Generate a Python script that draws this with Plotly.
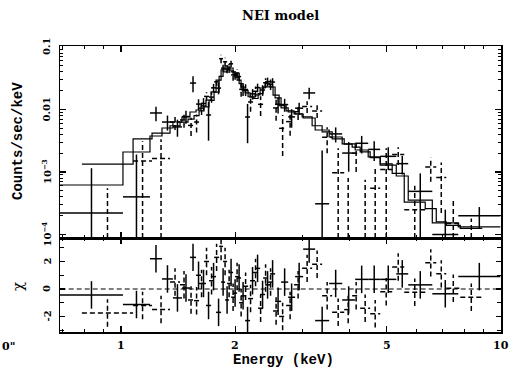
import math
import plotly.graph_objects as go

# ---------------- data set A (solid crosses) ----------------
a_edges = [0.691, 1.012, 1.192, 1.282, 1.370, 1.447, 1.519, 1.576, 1.624, 1.674, 1.726,
           1.779, 1.834, 1.879, 1.925, 1.972, 2.021, 2.070, 2.121, 2.186, 2.253, 2.323,
           2.394, 2.468, 2.544, 2.638, 2.754, 2.872, 3.016, 3.243, 3.530, 3.820, 4.133,
           4.472, 4.810, 5.302, 5.700, 6.595, 7.719, 9.96]
a_rate = [2.2e-4, 4.0e-4, 8.8e-3, 6.3e-3, 5.27e-3, 7.72e-3, 2.65e-2, 1.22e-2, 1.25e-2,
          8.17e-3, 2.22e-2, 2.20e-2, 4.59e-2, 4.45e-2, 5.39e-2, 3.54e-2, 3.36e-2, 2.08e-2,
          7.59e-3, 1.78e-2, 2.24e-2, 2.05e-2, 2.79e-2, 2.75e-2, 1.21e-2, 1.20e-2, 7.62e-3,
          1.05e-2, 1.84e-2, 3.1e-4, 4.07e-3, 2.01e-3, 2.88e-3, 2.30e-3, 1.78e-3, 1.36e-3,
          4.9e-4, 1.0e-4, 2.0e-4]
a_err = [9.3e-4, 1.5e-3, 2.3e-3, 1.7e-3, 1.6e-3, 1.8e-3, 7.6e-3, 2.4e-3, 2.7e-3, 5.0e-3,
         3.5e-3, 4.5e-3, 6.0e-3, 6.5e-3, 6.5e-3, 5.5e-3, 5.0e-3, 4.3e-3, 4.7e-3, 3.4e-3,
         3.5e-3, 4.0e-3, 4.5e-3, 4.2e-3, 3.5e-3, 2.8e-3, 2.5e-3, 2.3e-3, 3.8e-3, 1.9e-3,
         1.1e-3, 1.0e-3, 0.9e-3, 0.8e-3, 0.7e-3, 4.5e-4, 4.6e-4, 1.5e-4, 0.75e-4]
a_model = [6.19e-4, 2.09e-3, 3.77e-3, 5.06e-3, 6.31e-3, 7.59e-3, 9.12e-3, 9.82e-3, 1.14e-2,
           1.42e-2, 1.91e-2, 2.96e-2, 4.29e-2, 4.97e-2, 4.61e-2, 3.70e-2, 2.96e-2, 2.29e-2,
           1.84e-2, 1.58e-2, 1.71e-2, 2.21e-2, 2.65e-2, 2.29e-2, 1.53e-2, 1.06e-2, 9.12e-3,
           8.47e-3, 7.31e-3, 4.70e-3, 3.63e-3, 2.81e-3, 2.25e-3, 1.74e-3, 1.29e-3, 8.63e-4,
           3.56e-4, 1.53e-4, 1.32e-4]
a_chi = [-0.43, -1.13, 2.2, 0.73, -0.65, 0.07, 2.3, 1.0, 0.4, -1.2, 0.9, -1.7, 0.5, -0.8,
         1.2, -0.3, 0.8, -0.5, -2.3, 0.6, 1.5, -0.4, 0.3, 1.1, -0.9, 0.5, -0.6, 0.9, 2.9,
         -2.3, 0.4, -0.8, 0.7, 0.7, 0.7, 1.1, 0.3, -0.35, 0.9]

# ---------------- data set B (dashed crosses) ----------------
b_edges = [0.789, 1.076, 1.207, 1.346, 1.430, 1.501, 1.557, 1.605, 1.654, 1.705, 1.758,
           1.812, 1.856, 1.902, 1.949, 1.996, 2.046, 2.096, 2.160, 2.226, 2.295, 2.366,
           2.438, 2.513, 2.607, 2.720, 2.854, 2.997, 3.184, 3.383, 3.595, 3.867, 4.058,
           4.260, 4.526, 4.810, 5.172, 5.564, 6.319, 6.755, 7.178, 7.814, 8.928]
b_rate = [-5.0e-4, 1.5e-3, 1.65e-3, 6.3e-3, 6.8e-3, 5.56e-3, 6.3e-3, 1.05e-2, 1.62e-2,
          1.58e-2, 2.77e-2, 6.5e-2, 5.8e-2, 4.62e-2, 3.58e-2, 3.84e-2, 2.1e-2, 2.09e-2,
          1.32e-2, 1.96e-2, 1.21e-2, 2.68e-2, 2.54e-2, 1.06e-2, 5.0e-3, 6.4e-3, 9.2e-3,
          1.12e-2, 9.5e-3, 3.6e-3, 0.97e-3, -0.87e-3, 2.0e-3, -0.6e-3, 0.55e-3, 1.1e-3,
          1.9e-3, 2.5e-4, 1.2e-3, 8.2e-4, 1.5e-4, 0.5e-4]
b_err = [1.05e-3, 1.6e-3, 1.7e-3, 1.6e-3, 1.7e-3, 1.8e-3, 2.0e-3, 2.3e-3, 2.6e-3, 3.0e-3,
         3.8e-3, 1.0e-2, 9.0e-3, 8.0e-3, 7.0e-3, 6.0e-3, 5.0e-3, 4.5e-3, 4.0e-3, 3.8e-3,
         4.2e-3, 4.8e-3, 4.8e-3, 4.0e-3, 3.2e-3, 2.6e-3, 2.4e-3, 2.4e-3, 2.2e-3, 1.6e-3,
         1.43e-3, 1.67e-3, 1.0e-3, 1.35e-3, 0.65e-3, 1.3e-3, 6.0e-4, 3.5e-4, 5.0e-4, 6.0e-4,
         2.0e-4, 1.3e-4]
b_model = [1.34e-3, 3.4e-3, 4.2e-3, 5.5e-3, 6.3e-3, 7.0e-3, 8.0e-3, 9.5e-3, 1.1e-2, 1.4e-2,
           1.9e-2, 3.4e-2, 4.0e-2, 4.3e-2, 4.0e-2, 3.3e-2, 2.6e-2, 2.0e-2, 1.6e-2, 1.5e-2,
           1.8e-2, 2.3e-2, 2.3e-2, 1.7e-2, 1.15e-2, 9.5e-3, 8.5e-3, 7.6e-3, 5.5e-3, 4.4e-3,
           3.4e-3, 2.8e-3, 2.5e-3, 2.1e-3, 1.7e-3, 1.35e-3, 9.5e-4, 3.3e-4, 2.6e-4, 1.6e-4,
           1.4e-4, 1.25e-4]
b_chi = [-1.75, -1.2, -1.5, 0.5, 0.3, -0.8, -0.85, 0.4, 2.0, 0.6, 2.3, 3.1, 2.0, 0.4, -0.6,
         0.9, -1.0, 0.2, -0.7, 1.2, -1.4, 0.8, 0.5, -1.6, -2.0, -1.2, 0.3, 1.5, 1.8, -0.5,
         -1.7, -1.5, -0.5, -1.4, -1.8, -0.2, 1.6, -0.23, 1.9, 1.1, 0.05, -0.6]

x_tickvals = [1, 2, 5, 10]
x_ticktext = ["1", "2", "5", "10"]
y_tickvals = [1e-4, 1e-3, 1e-2, 1e-1]
y_ticktext = ["10<sup>\u22124</sup>", "10<sup>\u22123</sup>", "0.01", "0.1"]
chi_tickvals = [-2, 0, 2]
chi_ticktext = ["-2", "0", "2"]
chi_minor = [-3, -1, 1, 3]

FLOOR = 1e-7

# pixel layout of the frame (521 x 373 page)
W, H = 521, 373
L, R, T, B = 60, 20, 46, 41
PW, PH = W - L - R, H - T - B
RES_H = 94
D = RES_H / PH


def crosses(edges, val, err, floor=None):
    xs, ys = [], []
    for i in range(len(val)):
        lo, hi = edges[i], edges[i + 1]
        c = (lo * hi) ** 0.5
        v, e = val[i], err[i]
        if floor is None or v > 0:
            xs += [lo, hi, None]
            ys += [v, v, None]
        bot = v - e
        if floor is not None and bot <= 0:
            bot = floor
        xs += [c, c, None]
        ys += [bot, v + e, None]
    return xs, ys


def step(edges, model):
    return list(edges), list(model) + [model[-1]]


def px_to_paper_x(px):
    return (px - L) / PW


def px_to_paper_y(py):
    return (H - B - py) / PH


fig = go.Figure()
LW = 1.5
DASH = "5px,3px"

# main panel
ax, ay = crosses(a_edges, a_rate, a_err, FLOOR)
fig.add_trace(go.Scatter(x=ax, y=ay, mode="lines", line=dict(color="black", width=LW),
                         xaxis="x", yaxis="y"))
bx, by = crosses(b_edges, b_rate, b_err, FLOOR)
fig.add_trace(go.Scatter(x=bx, y=by, mode="lines",
                         line=dict(color="black", width=LW, dash=DASH), xaxis="x", yaxis="y"))
sx, sy = step(a_edges, a_model)
fig.add_trace(go.Scatter(x=sx, y=sy, mode="lines", line=dict(color="black", width=1.2, shape="hv"),
                         xaxis="x", yaxis="y"))
sx, sy = step(b_edges, b_model)
fig.add_trace(go.Scatter(x=sx, y=sy, mode="lines", line=dict(color="black", width=1.2, shape="hv"),
                         xaxis="x", yaxis="y"))

# residual panel
rx, ry = crosses(a_edges, a_chi, [1.0] * len(a_chi))
fig.add_trace(go.Scatter(x=rx, y=ry, mode="lines", line=dict(color="black", width=LW),
                         xaxis="x2", yaxis="y2"))
rx, ry = crosses(b_edges, b_chi, [1.0] * len(b_chi))
fig.add_trace(go.Scatter(x=rx, y=ry, mode="lines",
                         line=dict(color="black", width=LW, dash=DASH), xaxis="x2", yaxis="y2"))
fig.add_trace(go.Scatter(x=[0.6, 11], y=[0, 0], mode="lines",
                         line=dict(color="black", width=1.2, dash=DASH), xaxis="x2", yaxis="y2"))

x_minor = [0.7, 0.8, 0.9, 3, 4, 6, 7, 8, 9]
y_minor = [k * 10.0 ** d for d in (-5, -4, -3, -2) for k in range(2, 10)]

common_x = dict(type="log", range=[-0.1605, 1.0], tickvals=x_tickvals,
                ticks="inside", ticklen=6, tickwidth=1.2, tickcolor="black",
                showline=True, linewidth=1.5, linecolor="black", mirror="allticks",
                showgrid=False, zeroline=False, showticklabels=False,
                minor=dict(tickvals=x_minor, ticks="inside", ticklen=3, tickwidth=1.2,
                           tickcolor="black", showgrid=False))

fig.update_layout(
    width=W, height=H,
    margin=dict(l=L, r=R, t=T, b=B),
    paper_bgcolor="white", plot_bgcolor="white",
    showlegend=False,
    hovermode=False,
    xaxis=dict(**common_x, anchor="y", domain=[0, 1]),
    xaxis2=dict(**common_x, anchor="y2", domain=[0, 1], matches="x"),
    yaxis=dict(type="log", range=[-4.056, -0.984], domain=[D, 1], anchor="x",
               tickvals=y_tickvals, showticklabels=False,
               ticks="inside", ticklen=6, tickwidth=1.2, tickcolor="black",
               showline=True, linewidth=1.5, linecolor="black", mirror="allticks",
               showgrid=False, zeroline=False,
               minor=dict(tickvals=y_minor, ticks="inside", ticklen=3, tickwidth=1.0,
                          tickcolor="black", showgrid=False)),
    yaxis2=dict(range=[-3.13, 3.71], domain=[0, D], anchor="x2",
                tickvals=chi_tickvals, showticklabels=False,
                ticks="inside", ticklen=5, tickwidth=1.2, tickcolor="black",
                showline=True, linewidth=1.5, linecolor="black", mirror="allticks",
                showgrid=False, zeroline=False,
                minor=dict(tickvals=chi_minor, ticks="inside", ticklen=4, tickwidth=1.2,
                           tickcolor="black", showgrid=False)),
)

num_font = dict(family="DejaVu Serif", size=11, color="black", weight="bold")
ynum_font = dict(family="DejaVu Serif", size=10, color="black", weight="bold")

# tick labels (rotated on the y axes, as in the reference)
for v, t in zip(x_tickvals, x_ticktext):
    fig.add_annotation(text=t, xref="x2", yref="paper", x=math.log10(v),
                       y=px_to_paper_y(345), xanchor="center", yanchor="middle",
                       showarrow=False, font=num_font)
for v, t in zip(y_tickvals, y_ticktext):
    fig.add_annotation(text=t, xref="paper", yref="y", x=px_to_paper_x(46),
                       y=math.log10(v), textangle=-90, xanchor="center", yanchor="middle",
                       showarrow=False, font=ynum_font)
for v, t in zip(chi_tickvals, chi_ticktext):
    fig.add_annotation(text=t, xref="paper", yref="y2", x=px_to_paper_x(47),
                       y=v, textangle=-90, xanchor="center", yanchor="middle",
                       showarrow=False, font=ynum_font)

fig.add_annotation(text="NEI model", xref="paper", yref="paper", x=0.5, y=px_to_paper_y(15),
                   xanchor="center", yanchor="middle", showarrow=False,
                   font=dict(family="DejaVu Serif", size=13, color="black", weight="bold"))
fig.add_annotation(text="Counts/sec/keV", xref="paper", yref="paper", x=px_to_paper_x(18),
                   y=px_to_paper_y(141), textangle=-90, xanchor="center", yanchor="middle",
                   showarrow=False,
                   font=dict(family="Liberation Mono", size=14, color="black", weight="bold"))
fig.add_annotation(text="\u03c7", xref="paper", yref="paper", x=px_to_paper_x(18),
                   y=px_to_paper_y(287), textangle=-90, xanchor="center", yanchor="middle",
                   showarrow=False,
                   font=dict(family="DejaVu Serif", size=15, color="black"))
fig.add_annotation(text="Energy (keV)", xref="paper", yref="paper", x=px_to_paper_x(283),
                   y=px_to_paper_y(360), xanchor="center", yanchor="middle", showarrow=False,
                   font=dict(family="Liberation Mono", size=14, color="black", weight="bold"))
fig.add_annotation(text="0\"", xref="paper", yref="paper", x=px_to_paper_x(0),
                   y=px_to_paper_y(346), xanchor="left", yanchor="middle", showarrow=False,
                   font=dict(family="DejaVu Serif", size=11, color="black", weight="bold"))

# remove the browser's default 8px page margin so the figure sits at the window origin
fig.write_html("out.html",
               config={"displayModeBar": False, "staticPlot": True},
               post_script="document.body.style.margin='0px';"
                           "document.body.style.overflow='hidden';")
